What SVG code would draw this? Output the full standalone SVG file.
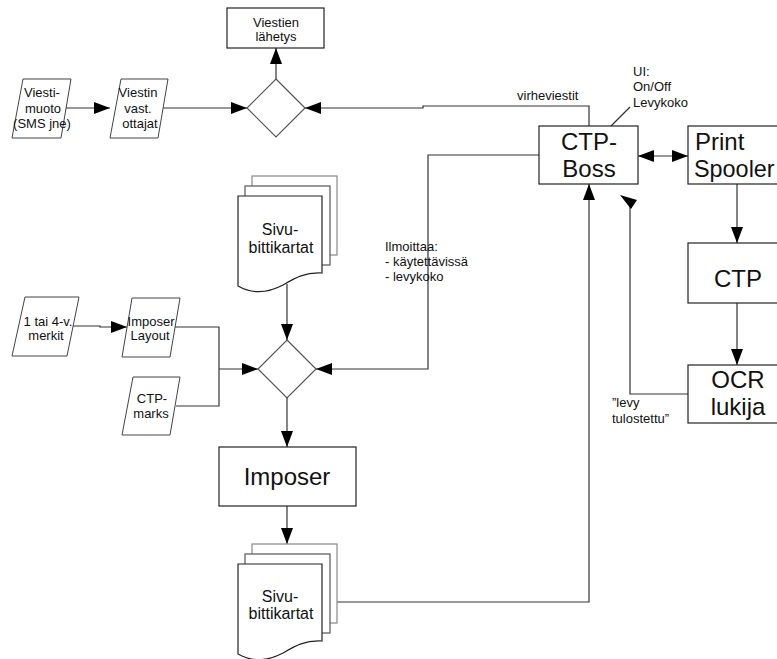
<svg xmlns="http://www.w3.org/2000/svg" width="777" height="659" viewBox="0 0 777 659">
  <defs>
    <marker id="arrow" markerUnits="userSpaceOnUse" markerWidth="16" markerHeight="12" refX="16" refY="6" orient="auto-start-reverse">
      <path d="M0,0 L16,6 L0,12 Z" fill="#000"/>
    </marker>
    <path id="docFront" d="M0,0 H84 V77 C67,76 57,82 45,89 C30,97 14,98 0,90 Z"/>
  </defs>
  <style>
    text { font-family: "Liberation Sans", Arial, sans-serif; fill: #111; }
    .t13 { font-size: 13px; }
    .t16 { font-size: 16px; }
    .t24 { font-size: 24px; }
    .mid { text-anchor: middle; }
    .box { fill: #fff; stroke: #222; stroke-width: 1.2; }
    .para { fill: #fff; stroke: #444; stroke-width: 1; }
    .dia { fill: #fff; stroke: #555; stroke-width: 1.2; }
    .back { fill: #fff; stroke: #888; stroke-width: 1.2; }
    .midpage { fill: #fff; stroke: #555; stroke-width: 1.2; }
    .front { fill: #fff; stroke: #222; stroke-width: 1.2; }
    .wire { fill: none; stroke: #333; stroke-width: 1.2; }
    .arr { marker-end: url(#arrow); }
  </style>
  <rect width="777" height="659" fill="#fff"/>

  <!-- connectors -->
  <g id="connectors">
    <path class="wire arr" d="M66,108 L110,108"/>
    <path class="wire arr" d="M163,108 L247,108"/>
    <path class="wire arr" d="M276,79 L276,48"/>
    <path class="wire arr" d="M589,126 L589,106 L423,106 L423,108 L305,108"/>
    <path class="wire" d="M630,107 L611,126"/>
    <path class="wire arr" style="marker-start:url(#arrow)" d="M638,156 L688,156"/>
    <path class="wire arr" d="M737,184 L737,243"/>
    <path class="wire arr" d="M737,303 L737,365"/>
    <path class="wire" d="M688,394 L630,394 L630,205"/>
    <polygon points="620,195 637,200 631,209" fill="#000"/>
    <path class="wire arr" d="M539,155 L428,155 L428,369 L316,369"/>
    <path class="wire arr" d="M287,284 L287,340"/>
    <path class="wire arr" d="M73,326 L100,326 L100,327 L127,327"/>
    <path class="wire" d="M175,327 L219,327 L219,406 L176,406"/>
    <path class="wire arr" d="M219,369 L258,369"/>
    <path class="wire arr" d="M287,398 L287,447"/>
    <path class="wire arr" d="M287,506 L287,544"/>
    <path class="wire arr" d="M337,602 L589,602 L589,184"/>
  </g>

  <!-- connector labels -->
  <g id="labels">
    <text class="t13" x="517" y="100">virheviestit</text>
    <text class="t13" x="633" y="76">UI:</text>
    <text class="t13" x="633" y="91">On/Off</text>
    <text class="t13" x="633" y="107">Levykoko</text>
    <text class="t13" x="385" y="251">Ilmoittaa:</text>
    <text class="t13" x="385" y="266">- käytettävissä</text>
    <text class="t13" x="385" y="281">- levykoko</text>
    <text class="t13" x="612" y="407">”levy</text>
    <text class="t13" x="612" y="423">tulostettu”</text>
  </g>

  <g id="viestien-lahetys">
    <rect class="box" x="227" y="8" width="97" height="40"/>
    <text class="t13 mid" x="276" y="27">Viestien</text>
    <text class="t13 mid" x="276" y="41">lähetys</text>
  </g>

  <g id="diamond-top">
    <polygon class="dia" points="276,79 305,108 276,137 247,108"/>
  </g>

  <g id="viestimuoto">
    <polygon class="para" points="23,79 71,79 61,138 12,138"/>
    <text class="t13 mid" x="42" y="97">Viesti-</text>
    <text class="t13 mid" x="43" y="113">muoto</text>
    <text class="t13 mid" x="42" y="128">(SMS jne)</text>
  </g>

  <g id="vastaanottajat">
    <polygon class="para" points="121,79 168,79 158,138 110,138"/>
    <text class="t13 mid" x="138" y="97">Viestin</text>
    <text class="t13 mid" x="138" y="113">vast.</text>
    <text class="t13 mid" x="140" y="128">ottajat</text>
  </g>

  <g id="ctp-boss">
    <rect class="box" x="539" y="126" width="99" height="58"/>
    <text class="t24 mid" x="589" y="150">CTP-</text>
    <text class="t24 mid" x="589" y="177">Boss</text>
  </g>

  <g id="print-spooler">
    <rect class="box" x="688" y="126" width="100" height="58"/>
    <text class="t24" x="695" y="150">Print</text>
    <text x="694" y="177" style="font-size:23.4px">Spooler</text>
  </g>

  <g id="ctp">
    <rect class="box" x="688" y="243" width="100" height="60"/>
    <text class="t24 mid" x="738" y="287">CTP</text>
  </g>

  <g id="ocr-lukija">
    <rect class="box" x="688" y="365" width="100" height="58"/>
    <text class="t24 mid" x="738" y="388">OCR</text>
    <text class="t24 mid" x="738" y="415">lukija</text>
  </g>

  <g id="sivubittikartat-top">
    <rect class="back" x="252" y="176" width="85" height="79"/>
    <rect class="midpage" x="245" y="186" width="85" height="79"/>
    <use href="#docFront" class="front" x="238" y="196"/>
    <text class="t16 mid" x="280" y="235">Sivu-</text>
    <text class="t16 mid" x="281" y="253">bittikartat</text>
  </g>

  <g id="merkit">
    <polygon class="para" points="25,297 79,297 67,356 12,356"/>
    <text class="t13 mid" x="48" y="326">1 tai 4-v.</text>
    <text class="t13 mid" x="46" y="340">merkit</text>
  </g>

  <g id="imposer-layout">
    <polygon class="para" points="132,298 180,298 170,357 122,357"/>
    <text class="t13 mid" x="151" y="326">Imposer</text>
    <text class="t13 mid" x="150" y="340">Layout</text>
  </g>

  <g id="ctp-marks">
    <polygon class="para" points="133,377 180,377 170,435 122,435"/>
    <text class="t13 mid" x="152" y="403">CTP-</text>
    <text class="t13 mid" x="151" y="418">marks</text>
  </g>

  <g id="diamond-bottom">
    <polygon class="dia" points="287,340 316,369 287,398 258,369"/>
  </g>

  <g id="imposer">
    <rect class="box" x="219" y="447" width="137" height="59"/>
    <text class="t24 mid" x="287" y="485">Imposer</text>
  </g>

  <g id="sivubittikartat-bottom">
    <rect class="back" x="252" y="544" width="85" height="79"/>
    <rect class="midpage" x="245" y="554" width="85" height="79"/>
    <use href="#docFront" class="front" x="238" y="564"/>
    <text class="t16 mid" x="280" y="602">Sivu-</text>
    <text class="t16 mid" x="281" y="619">bittikartat</text>
  </g>
</svg>
